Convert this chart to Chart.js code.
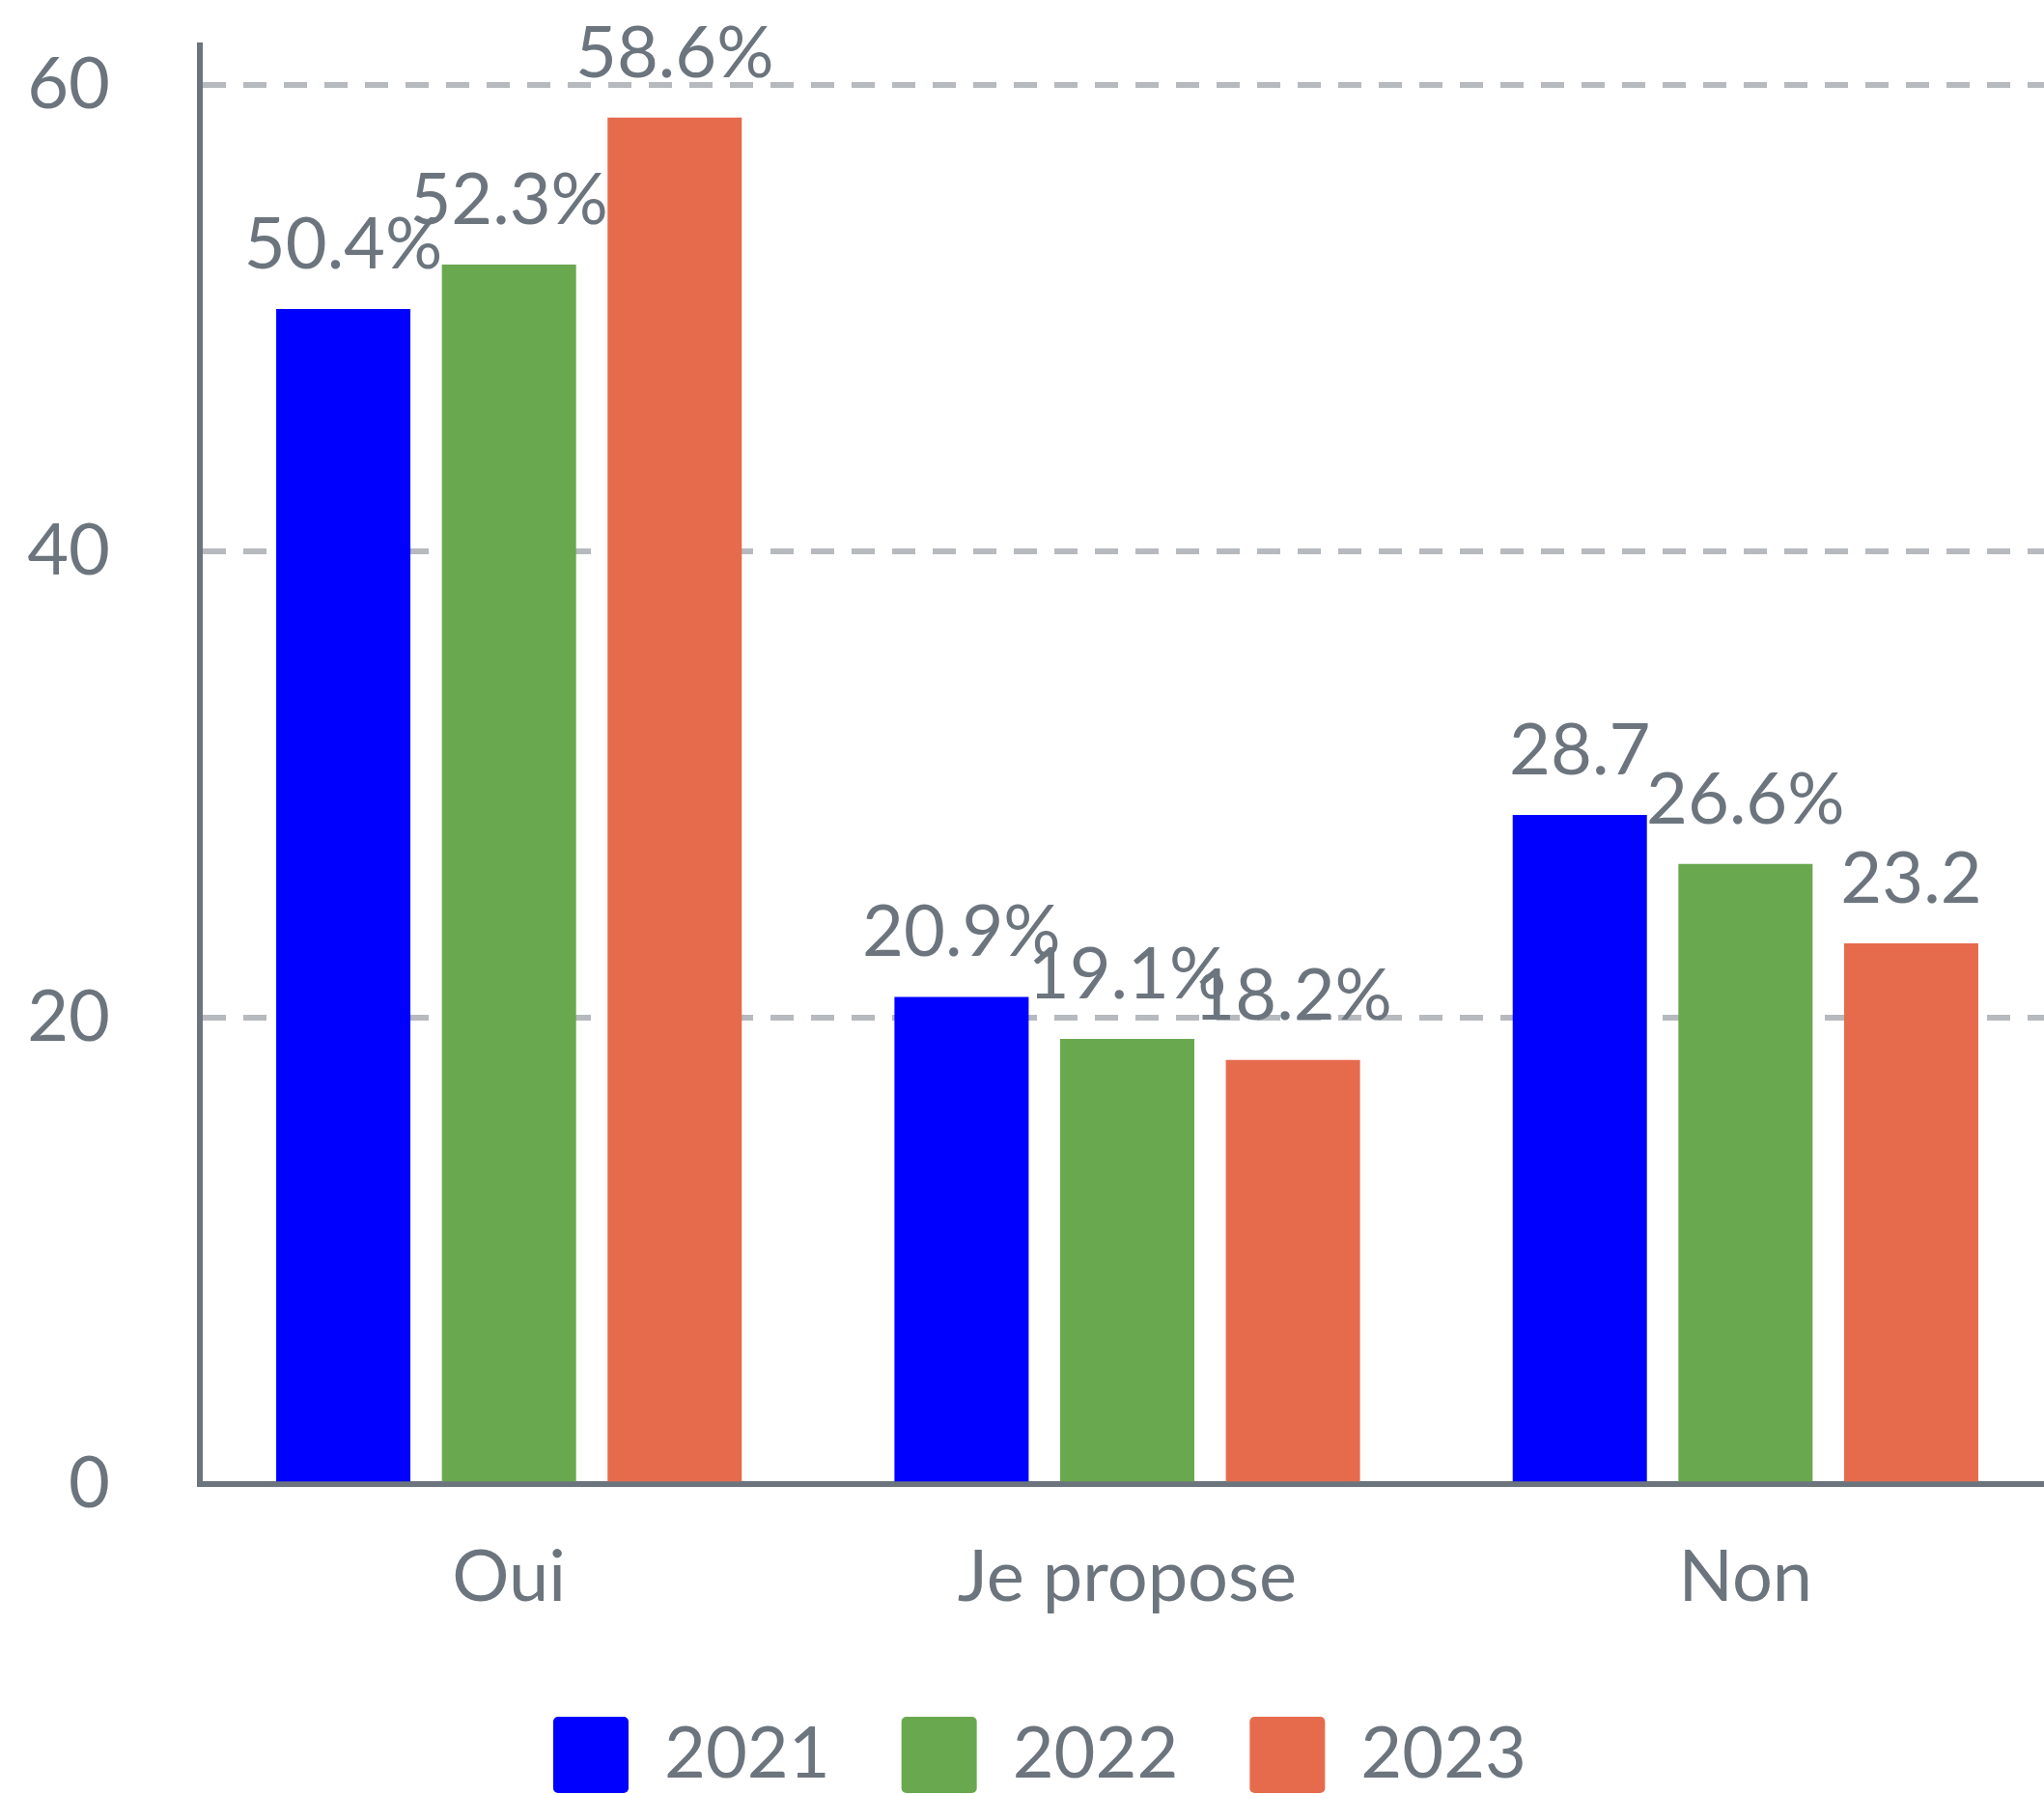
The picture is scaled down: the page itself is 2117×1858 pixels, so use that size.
<!DOCTYPE html>
<html>
<head>
<meta charset="utf-8">
<script src="https://cdn.jsdelivr.net/npm/chart.js@4.4.1/dist/chart.umd.min.js"></script>
<style>
  html, body { margin: 0; padding: 0; background: #fff; overflow: hidden; }
  #chart { display: block; }
</style>
</head>
<body>
<!-- canvas runs a few px past the window so the plot bleeds off the right edge like the source -->
<canvas id="chart" width="2128" height="1858"></canvas>
<script>
// categories and series
const categories = ['Oui', 'Je propose', 'Non'];
const years = ['2021', '2022', '2023'];
const values2021 = [50.4, 20.9, 28.7];
const values2022 = [52.3, 19.1, 26.6];
const values2023 = [58.6, 18.2, 23.2];
// value labels as printed above the bars
const labels2021 = ['50.4%', '20.9%', '28.7'];
const labels2022 = ['52.3%', '19.1%', '26.6%'];
const labels2023 = ['58.6%', '18.2%', '23.2'];

const TEXT = '#6c757d';
const FONT = 'Lato';

// draws the printed value above each bar
const barLabels = {
  id: 'barLabels',
  afterDatasetsDraw(chart) {
    const ctx = chart.ctx;
    ctx.save();
    ctx.font = `74px ${FONT}`;
    ctx.fillStyle = TEXT;
    ctx.textAlign = 'center';
    ctx.textBaseline = 'alphabetic';
    chart.data.datasets.forEach((ds, di) => {
      const meta = chart.getDatasetMeta(di);
      meta.data.forEach((bar, i) => {
        ctx.fillText(ds.valueLabels[i], bar.x, bar.y - 42);
      });
    });
    ctx.restore();
  }
};

new Chart(document.getElementById('chart'), {
  type: 'bar',
  data: {
    labels: categories,
    datasets: [
      { label: years[0], data: values2021, valueLabels: labels2021, backgroundColor: '#0000ff' },
      { label: years[1], data: values2022, valueLabels: labels2022, backgroundColor: '#6aa84f' },
      { label: years[2], data: values2023, valueLabels: labels2023, backgroundColor: '#e66b4d' }
    ]
  },
  options: {
    responsive: false,
    devicePixelRatio: 1,
    animation: false,
    categoryPercentage: 0.804,
    barPercentage: 0.81,
    layout: {
      padding: { left: 26, right: 0, top: 47, bottom: -9 }
    },
    scales: {
      x: {
        grid: { display: false, drawTicks: false },
        border: { display: true, color: TEXT, width: 6 },
        ticks: {
          color: TEXT,
          padding: 61,
          font: { family: FONT, size: 74, lineHeight: 0.97 }
        },
        afterFit(scale) {
          scale.height -= 27;
        }
      },
      y: {
        min: 0,
        max: 61.7,
        grid: {
          color: '#b6b9bd',
          lineWidth: 6,
          drawTicks: false
        },
        border: { display: true, color: TEXT, width: 6, dash: [24, 18] },
        ticks: {
          stepSize: 20,
          includeBounds: false,
          color: TEXT,
          padding: 93,
          font: { family: FONT, size: 74 }
        },
        afterFit(scale) {
          // keep the axis box tight: labels + padding only
          scale.width = 181;
          scale.paddingTop = 0;
          scale.paddingBottom = 0;
        }
      }
    },
    plugins: {
      legend: {
        position: 'bottom',
        labels: {
          color: TEXT,
          boxWidth: 78,
          boxHeight: 79,
          padding: 74,
          useBorderRadius: true,
          borderRadius: 5,
          font: { family: FONT, size: 74 }
        }
      },
      tooltip: { enabled: false }
    }
  },
  plugins: [barLabels]
});
</script>
</body>
</html>
